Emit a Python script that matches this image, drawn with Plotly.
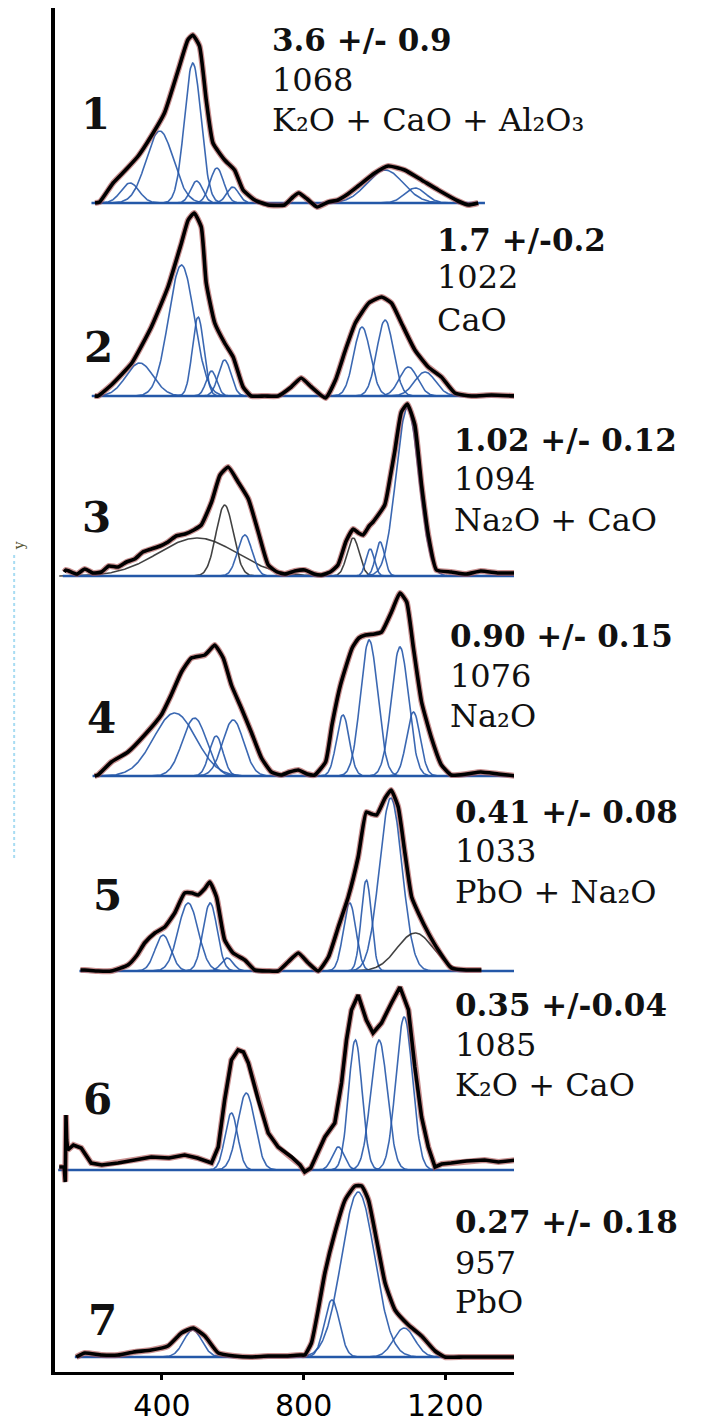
import numpy as np
import plotly.graph_objects as go

# ---------------- data ----------------
tick_vals = [400, 800, 1200]
tick_text = ["400", "800", "1200"]

sample_labels = ["1", "2", "3", "4", "5", "6", "7"]
ratio_text = ["3.6 +/- 0.9", "1.7 +/-0.2", "1.02 +/- 0.12", "0.90 +/- 0.15",
              "0.41 +/- 0.08", "0.35 +/-0.04", "0.27 +/- 0.18"]
peak_text = ["1068", "1022", "1094", "1076", "1033", "1085", "957"]
oxide_text = ["K₂O + CaO + Al₂O₃", "CaO", "Na₂O + CaO", "Na₂O", "PbO + Na₂O",
              "K₂O + CaO", "PbO"]

# measured spectra (wavenumber, intensity)
spec1_x = [211, 224, 262, 300, 333, 370, 407, 446, 473, 487, 506, 525, 544, 577, 605, 629, 662,
           700, 746, 770, 786, 810, 838, 870, 897, 925, 954, 1001, 1039, 1085, 1133, 1180, 1236, 1265, 1293]
spec1_y = [0, 1, 20, 34, 47, 67, 90, 133, 163, 168, 157, 103, 60, 43, 33, 13, 3,
           -2, -2, 6, 10, 4, -4, 1, 3, 9, 17, 30, 37, 33, 23, 13, 2, -2, 0]

spec2_x = [210, 219, 257, 315, 370, 417, 455, 474, 491, 511, 525, 549, 577, 601, 629, 652, 690,
           728, 765, 793, 822, 862, 890, 918, 946, 984, 1020, 1048, 1076, 1114, 1152, 1189, 1227,
           1274, 1330, 1401]
spec2_y = [0, 0, 11, 33, 69, 109, 153, 176, 183, 169, 113, 73, 53, 39, 9, 0, 0,
           0, 9, 18, 9, -2, 16, 46, 73, 93, 99, 93, 73, 46, 29, 19, 3,
           0, 1, 0]

spec3_x = [124, 129, 160, 182, 205, 229, 250, 276, 300, 323, 346, 370, 395, 417, 440, 465, 490,
           511, 540, 564, 587, 615, 644, 672, 700, 725, 747, 775, 803, 830, 850, 875, 897, 920,
           940, 955, 968, 985, 996, 1029, 1045, 1057, 1076, 1093, 1114, 1133, 1152, 1175, 1217,
           1260, 1300, 1350, 1401]
spec3_y = [4, 6, 2, 7, 3, 4, 10, 9, 14, 17, 24, 27, 30, 34, 40, 42, 46,
           51, 74, 101, 109, 94, 77, 44, 11, 4, 2, 5, 6, 2, 1, 4, 11, 35,
           47, 43, 41, 50, 54, 71, 100, 124, 164, 172, 151, 91, 41, 6, 4,
           2, 5, 3, 3]

spec4_x = [210, 219, 257, 304, 351, 398, 426, 455, 483, 521, 535, 549, 573, 596, 624, 652, 681,
           709, 737, 760, 785, 810, 831, 862, 880, 904, 937, 956, 975, 1000, 1020, 1048, 1072,
           1091, 1110, 1133, 1161, 1189, 1217, 1260, 1300, 1350, 1401]
spec4_y = [0, 1, 14, 24, 41, 61, 81, 104, 118, 121, 126, 131, 118, 91, 68, 44, 18,
           4, 1, 4, 6, 2, 1, 14, 51, 91, 128, 138, 141, 142, 144, 164, 183,
           174, 128, 74, 38, 11, 1, 2, 4, 2, 0]

spec5_x = [170, 182, 220, 257, 304, 330, 351, 380, 408, 436, 464, 485, 502, 520, 535, 554, 577,
           601, 634, 662, 700, 728, 756, 785, 813, 841, 870, 898, 926, 954, 977, 992, 1006,
           1030, 1047, 1067, 1086, 1105, 1124, 1152, 1180, 1217, 1260, 1302]
spec5_y = [1, 1, 0, 0, 6, 16, 28, 38, 44, 58, 78, 78, 76, 82, 89, 74, 31,
           18, 11, 1, 0, 0, 9, 18, 8, 0, 14, 44, 74, 114, 159, 157, 156,
           173, 181, 164, 118, 74, 58, 38, 21, 3, 1, 1]

spec6_x = [110, 124, 127, 129, 131, 134, 150, 172, 200, 230, 276, 320, 370, 420, 464, 500, 540,
           559, 577, 596, 615, 630, 644, 672, 700, 728, 766, 790, 803, 820, 831, 860, 888, 907,
           921, 935, 954, 977, 996, 1020, 1048, 1072, 1096, 1114, 1133, 1152, 1171, 1190, 1217,
           1260, 1311, 1350, 1401]
spec6_y = [3, 3, -12, 55, 30, 20, 25, 22, 7, 5, 7, 10, 13, 12, 15, 12, 7,
           23, 70, 110, 120, 118, 107, 70, 37, 23, 13, 5, -2, 2, 10, 33, 47, 87,
           130, 160, 175, 150, 137, 147, 167, 183, 160, 103, 53, 23, 3, 6, 7,
           9, 10, 8, 10]

spec7_x = [158, 182, 230, 276, 320, 370, 417, 455, 488, 521, 559, 605, 650, 700, 747, 790, 803,
           822, 841, 860, 888, 917, 945, 964, 983, 1006, 1030, 1058, 1096, 1133, 1171, 1199,
           1250, 1300, 1350, 1401]
spec7_y = [0, 4, 2, 2, 5, 7, 11, 24, 29, 21, 4, 1, 0, 1, 1, 2, 2,
           14, 47, 84, 124, 157, 171, 171, 157, 117, 74, 47, 32, 21, 6, 0,
           0, 0, 0, 0]

# fitted gaussian components: centre (cm-1), height, FWHM (cm-1)
comp1_c = [310, 394, 487, 498, 555, 600, 1030, 1115]
comp1_h = [20, 72, 140, 22, 35, 16, 33, 15]
comp1_w = [60, 90, 55, 40, 45, 40, 120, 70]

comp2_c = [337, 455, 502, 540, 577, 965, 1030, 1096, 1143]
comp2_h = [33, 131, 79, 25, 36, 69, 76, 29, 24]
comp2_w = [90, 85, 38, 35, 42, 55, 55, 60, 70]

comp3_c = [500, 577, 634, 940, 988, 1016, 1093]
comp3_h = [38, 71, 41, 38, 27, 34, 168]
comp3_w = [260, 57, 48, 40, 28, 30, 75]
comp3_dark = [True, True, False, True, False, False, False]

comp4_c = [436, 492, 553, 601, 911, 985, 1072, 1110]
comp4_h = [63, 58, 40, 56, 61, 136, 129, 64]
comp4_w = [140, 80, 45, 70, 42, 57, 57, 45]

comp5_c = [403, 474, 536, 584, 930, 977, 1046, 1115]
comp5_h = [36, 68, 68, 13, 68, 91, 173, 38]
comp5_w = [52, 66, 47, 40, 42, 34, 75, 120]
comp5_dark = [False, False, False, False, False, False, False, True]

comp6_c = [596, 638, 898, 946, 1013, 1084]
comp6_h = [57, 77, 23, 130, 130, 153]
comp6_w = [42, 57, 40, 45, 55, 55]

comp7_c = [487, 880, 954, 1084]
comp7_h = [27, 57, 165, 29]
comp7_w = [60, 50, 110, 70]

# blue baseline extents (cm-1)
base_start = [201, 202, 120, 204, 167, 107, 154]
base_end = [1312, 1403, 1403, 1403, 1403, 1403, 1403]

# ---------------- layout / style ----------------
offsets = [1177, 984, 804, 604, 409, 210, 23]   # vertical stacking (plot units)
label_x = [211, 222, 216, 228, 245, 219, 233]
label_y = [1266, 1033, 863, 662, 485, 281, 60]
text_x = [705, 1171, 1219, 1208, 1222, 1222, 1222]
text_line1_y = [1340, 1140, 940, 744, 568, 375, 158]
text_line2_y = [1300, 1103, 901, 704, 529, 335, 117]
text_line3_y = [1260, 1060, 860, 664, 488, 295, 78]

BLUE = "rgba(38,88,170,0.9)"
BASE_BLUE = "#2458a8"
DARK = "rgba(45,45,45,0.9)"
FIT_RED = "rgba(165,70,70,0.6)"

spectra = [(spec1_x, spec1_y), (spec2_x, spec2_y), (spec3_x, spec3_y), (spec4_x, spec4_y),
           (spec5_x, spec5_y), (spec6_x, spec6_y), (spec7_x, spec7_y)]
comps = [(comp1_c, comp1_h, comp1_w, None), (comp2_c, comp2_h, comp2_w, None),
         (comp3_c, comp3_h, comp3_w, comp3_dark), (comp4_c, comp4_h, comp4_w, None),
         (comp5_c, comp5_h, comp5_w, comp5_dark), (comp6_c, comp6_h, comp6_w, None),
         (comp7_c, comp7_h, comp7_w, None)]

fig = go.Figure()


def gauss(x, c, h, w):
    return h * np.exp(-4.0 * np.log(2.0) * (x - c) ** 2 / w ** 2)


for i in range(7):
    off = offsets[i]
    cs, hs, ws, dark = comps[i]
    for j, (c, h, w) in enumerate(zip(cs, hs, ws)):
        xx = np.arange(c - 1.5 * w, c + 1.5 * w + 1, 2.0)
        col = DARK if (dark is not None and dark[j]) else BLUE
        fig.add_trace(go.Scatter(x=xx, y=off + gauss(xx, c, h, w), mode="lines",
                                 line=dict(color=col, width=1.6), hoverinfo="skip",
                                 showlegend=False))
    # baseline
    fig.add_trace(go.Scatter(x=[base_start[i], base_end[i]], y=[off, off], mode="lines",
                             line=dict(color=BASE_BLUE, width=2.5), showlegend=False,
                             hoverinfo="skip"))
    sx, sy = spectra[i]
    yy = [off + v for v in sy]
    shape = "linear" if i == 5 else "spline"
    fig.add_trace(go.Scatter(x=sx, y=yy, mode="lines",
                             line=dict(color=FIT_RED, width=6, shape=shape, smoothing=0.45),
                             showlegend=False, hoverinfo="skip"))
    fig.add_trace(go.Scatter(x=sx, y=yy, mode="lines",
                             line=dict(color="black", width=3.6, shape=shape, smoothing=0.45),
                             showlegend=False))

annotations = []
for i in range(7):
    annotations.append(dict(x=label_x[i], y=label_y[i], xref="x", yref="y", text=sample_labels[i],
                            showarrow=False, xanchor="center", yanchor="middle",
                            font=dict(family="DejaVu Serif", size=42, color="#111", weight="bold")))
    annotations.append(dict(x=text_x[i], y=text_line1_y[i], xref="x", yref="y",
                            text=ratio_text[i], showarrow=False,
                            xanchor="left", yanchor="middle",
                            font=dict(family="DejaVu Serif", size=31, color="#111", weight="bold")))
    annotations.append(dict(x=text_x[i], y=text_line2_y[i], xref="x", yref="y",
                            text=peak_text[i], showarrow=False,
                            xanchor="left", yanchor="middle",
                            font=dict(family="DejaVu Serif", size=32, color="#111")))
    annotations.append(dict(x=text_x[i], y=text_line3_y[i], xref="x", yref="y",
                            text=oxide_text[i], showarrow=False,
                            xanchor="left", yanchor="middle",
                            font=dict(family="DejaVu Serif", size=32, color="#111")))

# faint remnant of the y-axis title at far left
annotations.append(dict(x=-0.078, y=834, xref="paper", yref="y", text="y", showarrow=False,
                        textangle=-90, font=dict(family="DejaVu Serif", size=14, color="#553"),
                        xanchor="center", yanchor="middle"))

fig.update_layout(
    width=704, height=1428,
    margin=dict(l=55, r=190, t=8, b=56, autoexpand=False),
    paper_bgcolor="white", plot_bgcolor="white",
    showlegend=False,
    annotations=annotations,
    shapes=[dict(type="line", xref="paper", yref="y", x0=-0.089, x1=-0.089, y0=825, y1=522,
                 line=dict(color="#a8dcf2", width=2, dash="dot"))],
    xaxis=dict(range=[98, 1394], tickvals=tick_vals, ticktext=tick_text, ticks="outside",
               ticklen=5, tickwidth=3, tickcolor="black", showline=True, linewidth=3,
               linecolor="black", showgrid=False, zeroline=False, automargin=False,
               tickfont=dict(family="DejaVu Sans", size=30, color="black")),
    yaxis=dict(range=[8, 1372], showline=True, linewidth=4, linecolor="black",
               showticklabels=False, ticks="", showgrid=False, zeroline=False,
               automargin=False),
)

fig.write_html("out.html")
